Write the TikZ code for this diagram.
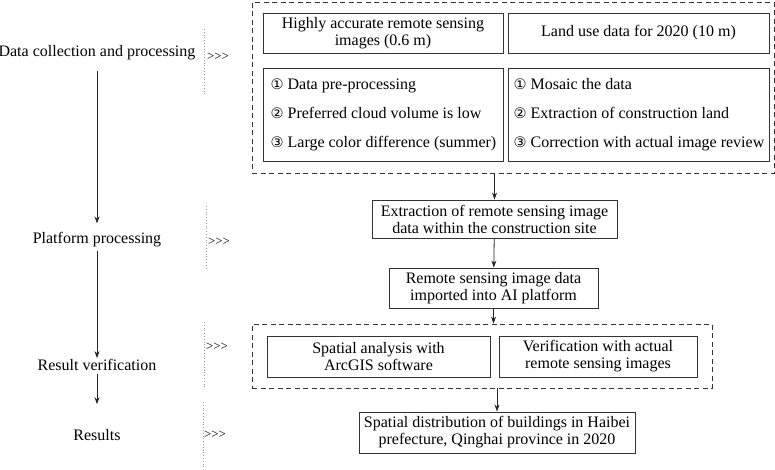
\documentclass[tikz,border=0pt]{standalone}
\usepackage{fontspec}
\setmainfont{Liberation Serif}
\newfontfamily\circfont{DejaVu Sans}
\usetikzlibrary{arrows.meta}
\newcommand{\cnum}[1]{{\circfont\fontsize{14.5}{16}\selectfont #1}}
\newcommand{\stagemark}{{>}{>}{>}}
\begin{document}
\begin{tikzpicture}[x=1pt,y=-1pt,font=\fontsize{16}{17}\selectfont,
  box/.style={draw=black!80,line width=0.9pt,align=center,inner sep=1pt},
  listbox/.style={draw=black!80,line width=0.9pt,align=left,inner sep=2pt,anchor=north west},
  groupbox/.style={draw=black!80,line width=0.8pt,dash pattern=on 5pt off 3.5pt},
  flow/.style={-{Stealth[length=7pt,width=5pt]},line width=0.8pt,black!85},
  sep/.style={draw=black!40,line width=0.8pt,dotted},
  stage/.style={inner sep=2pt},
  markstyle/.style={font=\fontsize{13}{13}\selectfont,inner sep=1pt}]
\useasboundingbox (0,0) rectangle (775,469);

% dashed group boxes
\node[groupbox,minimum width=522pt,minimum height=171pt] (collect) at (513,87.5) {};
\node[groupbox,minimum width=460pt,minimum height=64pt] (verify) at (482,356) {};

% data collection
\node[box,minimum width=240pt,minimum height=40pt] (hires) at (383,33)
  {Highly accurate remote sensing\\images (0.6 m)};
\node[box,minimum width=261pt,minimum height=40pt] (landuse) at (638.5,33)
  {Land use data for 2020 (10 m)};
\node[listbox,minimum width=240pt,minimum height=93pt] (histeps) at (263,68)
  {\cnum{①} Data pre-processing\\[12pt]\cnum{②} Preferred cloud volume is low\\[12pt]\cnum{③} Large color difference (summer)};
\node[listbox,minimum width=261pt,minimum height=93pt] (lusteps) at (508,68)
  {\cnum{①} Mosaic the data\\[12pt]\cnum{②} Extraction of construction land\\[12pt]\cnum{③} Correction with actual image review};

% platform processing
\node[box,minimum width=245pt,minimum height=38pt] (extract) at (494.5,219)
  {Extraction of remote sensing image\\data within the construction site};
\node[box,minimum width=209pt,minimum height=40pt] (import) at (493.5,288)
  {Remote sensing image data\\imported into AI platform};

% result verification
\node[box,minimum width=223pt,minimum height=41pt] (arcgis) at (378.5,356.5)
  {Spatial analysis with\\ArcGIS software};
\node[box,minimum width=198pt,minimum height=41pt] (actual) at (598,356.5)
  {Verification with actual\\remote sensing images};

% results
\node[box,minimum width=276pt,minimum height=41pt] (result) at (497,432.5)
  {Spatial distribution of buildings in Haibei\\prefecture, Qinghai province in 2020};

\draw[flow] (extract.north |- collect.south) -- (extract.north);
\draw[flow] (extract) -- (import);
\draw[flow] (import.south) -- (import.south |- verify.north);
\draw[flow] (result.north |- verify.south) -- (result.north);

% stages on the left
\node[stage] (s1) at (97,53) {Data collection and processing};
\node[stage] (s2) at (97,240) {Platform processing};
\node[stage] (s3) at (97,365) {Result verification};
\node[stage] (s4) at (97,435) {Results};

\draw[flow,shorten <=9pt,shorten >=7pt] (s1.south) -- (s2.north);
\draw[flow,shorten <=1pt,shorten >=-1pt] (s2.south) -- (s3.north);
\draw[flow,shorten <=1pt,shorten >=23pt] (s3.south) -- (s4.north);

% dotted separators and marks
\draw[sep] (204,29) -- (204,95);
\draw[sep] (206,206) -- (206,270);
\draw[sep] (204,322) -- (204,387);
\draw[sep] (203,402) -- (203,467);
\node[markstyle] (m1) at (218,57) {\stagemark};
\node[markstyle] (m2) at (219,242) {\stagemark};
\node[markstyle] (m3) at (217,347) {\stagemark};
\node[markstyle] (m4) at (215,435) {\stagemark};

\end{tikzpicture}
\end{document}
